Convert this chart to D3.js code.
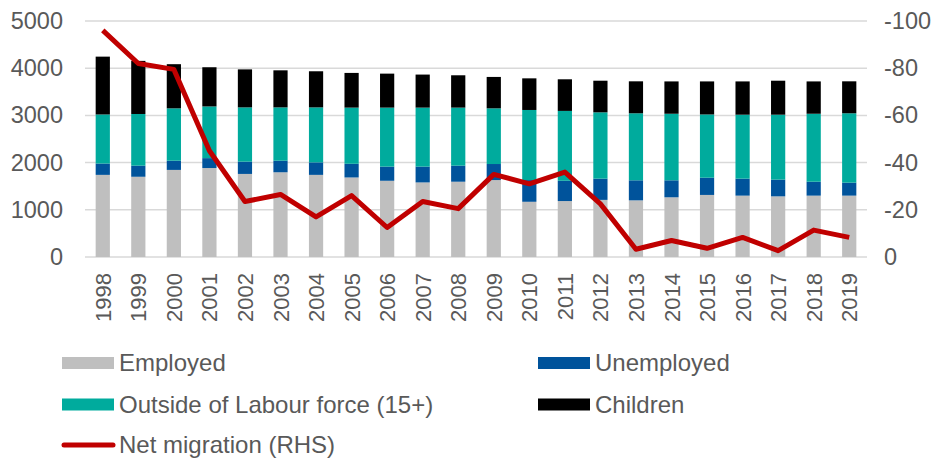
<!DOCTYPE html>
<html>
<head>
<meta charset="utf-8">
<script src="https://cdn.jsdelivr.net/npm/d3@7"></script>
<style>
  body { margin: 0; background: white; }
  text { font-family: "Liberation Sans", Arial, sans-serif; fill: #595959; }
</style>
</head>
<body>
<div id="chart"></div>
<script>
// data

years = ["1998","1999","2000","2001","2002","2003","2004","2005","2006","2007","2008",
         "2009","2010","2011","2012","2013","2014","2015","2016","2017","2018","2019"];

employed   = [1740,1700,1845,1885,1760,1795,1740,1685,1615,1580,1595,1630,1170,1185,1210,1200,1265,1315,1300,1285,1300,1300];
unemployed = [240,235,195,210,260,245,265,290,300,335,340,340,460,430,450,425,360,365,360,355,295,275];
outside    = [1040,1095,1110,1095,1150,1130,1165,1190,1250,1250,1230,1180,1485,1480,1405,1420,1410,1340,1355,1375,1440,1470];
children   = [1225,1125,935,830,805,785,765,735,720,700,685,665,670,670,670,677,685,700,705,720,685,677];
migration  = [-96,-82,-79.5,-45,-23.5,-26.5,-17,-26,-12.5,-23.5,-20.5,-35,-31,-36,-22.5,-3.3,-7,-3.7,-8.3,-2.7,-11.4,-8.3];

leftTicks  = [0,1000,2000,3000,4000,5000];
rightTicks = [0,-20,-40,-60,-80,-100];

series_names  = ["Employed","Unemployed","Outside of Labour force (15+)","Children"];
series_colors = ["#BFBFBF","#00539B","#00AB9D","#000000"];

width = 936;
height = 459;

svg = d3.select("#chart")
    .append("svg")
    .attr("width", width)
    .attr("height", height);

// scales

x = d3.scaleBand()
    .domain(years)
    .range([85, 867])
    .paddingInner(0.6)
    .paddingOuter(0.3);

y = d3.scaleLinear().domain([0, 5000]).range([257, 21]);
y2 = d3.scaleLinear().domain([0, -100]).range([257, 21]);

// gridlines

svg.append("g")
    .selectAll("line")
    .data(leftTicks)
    .join("line")
    .attr("x1", 85)
    .attr("x2", 867)
    .attr("y1", d => y(d))
    .attr("y2", d => y(d))
    .attr("stroke", "#D9D9D9")
    .attr("stroke-width", 1.5);

// stacked bars

rows = years.map((yr, i) => ({
    year: yr,
    s0: employed[i], s1: unemployed[i], s2: outside[i], s3: children[i]
}));

stack = d3.stack().keys(["s0","s1","s2","s3"])(rows);

svg.append("g")
    .selectAll("g")
    .data(stack)
    .join("g")
    .attr("fill", (d, i) => series_colors[i])
    .selectAll("rect")
    .data(d => d)
    .join("rect")
    .attr("x", d => x(d.data.year))
    .attr("width", x.bandwidth())
    .attr("y", d => y(d[1]))
    .attr("height", d => y(d[0]) - y(d[1]));

// net migration line

line = d3.line()
    .x((d, i) => x(years[i]) + x.bandwidth() / 2)
    .y(d => y2(d));

svg.append("path")
    .datum(migration)
    .attr("d", line)
    .attr("fill", "none")
    .attr("stroke", "#C00000")
    .attr("stroke-width", 5)
    .attr("stroke-linejoin", "round");

// axes

plain = d => String(d);

leftAxis = svg.append("g")
    .attr("transform", "translate(63,0)")
    .call(d3.axisLeft(y).tickValues(leftTicks).tickFormat(plain).tickSize(0).tickPadding(0));
leftAxis.select(".domain").remove();
leftAxis.selectAll("text")
    .attr("font-size", "23.5px")
    .attr("font-family", "Liberation Sans, Arial, sans-serif")
    .attr("fill", "#595959");

rightAxis = svg.append("g")
    .attr("transform", "translate(884,0)")
    .call(d3.axisRight(y2).tickValues(rightTicks).tickFormat(plain).tickSize(0).tickPadding(0));
rightAxis.select(".domain").remove();
rightAxis.selectAll("text")
    .attr("font-size", "23.5px")
    .attr("font-family", "Liberation Sans, Arial, sans-serif")
    .attr("fill", "#595959");

bottomAxis = svg.append("g")
    .attr("transform", "translate(0,257)")
    .call(d3.axisBottom(x).tickSize(0));
bottomAxis.select(".domain").remove();
bottomAxis.selectAll("text")
    .attr("font-size", "22px")
    .attr("font-family", "Liberation Sans, Arial, sans-serif")
    .attr("fill", "#595959")
    .attr("text-anchor", "end")
    .attr("dy", null)
    .attr("y", 0)
    .attr("transform", "translate(8,16) rotate(-90)");

// legend

legend_items = [
    {name: series_names[0], color: series_colors[0], type: "rect", x: 62, y: 363},
    {name: series_names[1], color: series_colors[1], type: "rect", x: 538, y: 363},
    {name: series_names[2], color: series_colors[2], type: "rect", x: 62, y: 404.5},
    {name: series_names[3], color: series_colors[3], type: "rect", x: 538, y: 404.5},
    {name: "Net migration (RHS)", color: "#C00000", type: "line", x: 62, y: 445}
];

legend = svg.append("g")
    .selectAll("g")
    .data(legend_items)
    .join("g")
    .attr("transform", d => `translate(${d.x},${d.y})`);

legend.filter(d => d.type == "rect")
    .append("rect")
    .attr("x", 0)
    .attr("y", -6)
    .attr("width", 52)
    .attr("height", 12)
    .attr("fill", d => d.color);

legend.filter(d => d.type == "line")
    .append("line")
    .attr("x1", 2)
    .attr("x2", 51)
    .attr("stroke", d => d.color)
    .attr("stroke-width", 5)
    .attr("stroke-linecap", "round");

legend.append("text")
    .attr("x", 57)
    .attr("y", 8)
    .attr("font-size", "24px")
    .text(d => d.name);
</script>
</body>
</html>
